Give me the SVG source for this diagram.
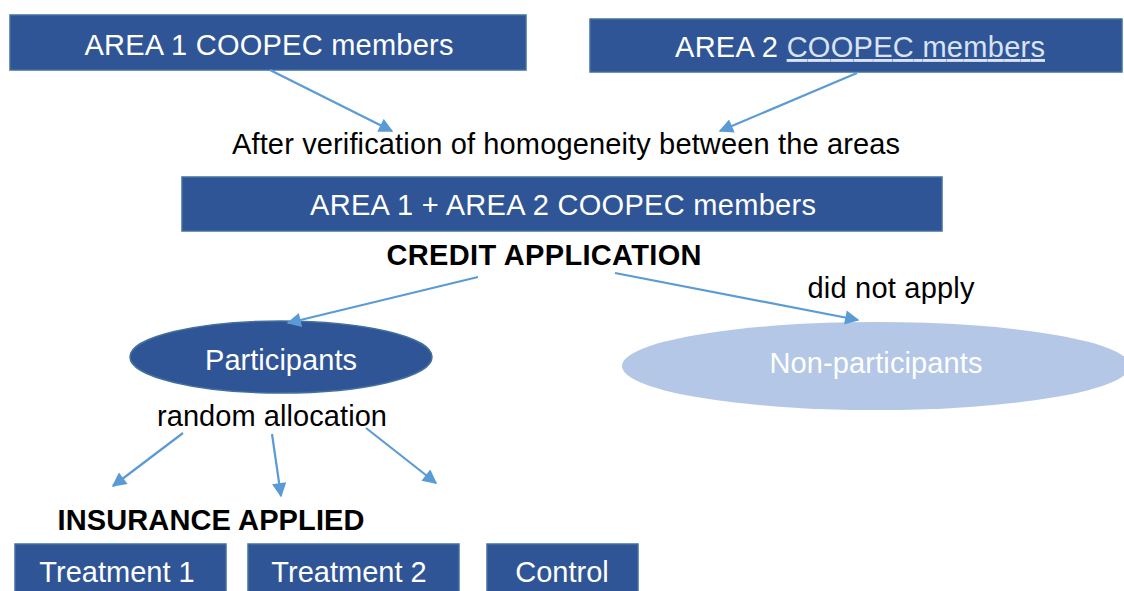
<svg xmlns="http://www.w3.org/2000/svg" width="1124" height="591" viewBox="0 0 1124 591">
  <defs>
    <marker id="arrow" viewBox="0 0 10 10" refX="9" refY="5" markerWidth="7" markerHeight="6.5" orient="auto" markerUnits="strokeWidth">
      <path d="M0,0 L10,5 L0,10 z" fill="#5b9bd5"/>
    </marker>
    <style>
      .box { fill: #2f5597; stroke: #41719c; stroke-width: 1.5; }
      .light { fill: #b4c7e7; }
      .wt { font-family: "Liberation Sans", Arial, sans-serif; font-size: 29px; fill: #ffffff; text-anchor: middle; }
      .bt { font-family: "Liberation Sans", Arial, sans-serif; font-size: 29px; fill: #000000; text-anchor: middle; }
      .bold { font-weight: bold; }
      .conn line { stroke: #5b9bd5; stroke-width: 2.2; marker-end: url(#arrow); }
    </style>
  </defs>

  <rect width="1124" height="591" fill="#ffffff"/>

  <!-- top boxes -->
  <g id="area1">
    <rect class="box" x="10" y="15" width="516" height="55"/>
    <text class="wt" x="269" y="55" textLength="369">AREA 1 COOPEC members</text>
  </g>
  <g id="area2">
    <rect class="box" x="590" y="19" width="532" height="53"/>
    <text class="wt" x="860" y="57" textLength="370">AREA 2 <tspan fill="#dae3f3" text-decoration="underline">COOPEC members</tspan></text>
  </g>

  <g id="verification">
    <text class="bt" x="566" y="154" textLength="668">After verification of homogeneity between the areas</text>
  </g>

  <g id="combined">
    <rect class="box" x="182" y="177" width="760" height="54"/>
    <text class="wt" x="563" y="215" textLength="506">AREA 1 + AREA 2 COOPEC members</text>
  </g>

  <g id="credit">
    <text class="bt bold" x="544" y="265" textLength="315">CREDIT APPLICATION</text>
  </g>

  <g id="did-not-apply">
    <text class="bt" x="891" y="298" textLength="167">did not apply</text>
  </g>

  <g id="participants">
    <ellipse class="box" cx="281" cy="357" rx="151" ry="36"/>
    <text class="wt" x="281" y="370" textLength="152">Participants</text>
  </g>

  <g id="non-participants">
    <ellipse class="light" cx="876" cy="366" rx="254" ry="44"/>
    <text class="wt" x="876" y="373" textLength="213">Non-participants</text>
  </g>

  <g id="random">
    <text class="bt" x="272" y="426" textLength="230">random allocation</text>
  </g>

  <g id="insurance">
    <text class="bt bold" x="211" y="530" textLength="307">INSURANCE APPLIED</text>
  </g>

  <g id="treatment1">
    <rect class="box" x="15" y="544" width="211" height="52"/>
    <text class="wt" x="117" y="582">Treatment 1</text>
  </g>
  <g id="treatment2">
    <rect class="box" x="248" y="544" width="211" height="52"/>
    <text class="wt" x="349" y="582">Treatment 2</text>
  </g>
  <g id="control">
    <rect class="box" x="487" y="544" width="151" height="52"/>
    <text class="wt" x="562" y="582">Control</text>
  </g>

  <!-- connectors -->
  <g id="connectors" class="conn">
    <line x1="270" y1="70" x2="392" y2="131"/>
    <line x1="857" y1="73" x2="720" y2="131"/>
    <line x1="478" y1="277" x2="288" y2="323"/>
    <line x1="615" y1="273" x2="858" y2="320"/>
    <line x1="183" y1="433" x2="113" y2="486"/>
    <line x1="272" y1="434" x2="281" y2="496"/>
    <line x1="366" y1="428" x2="436" y2="483"/>
  </g>
</svg>
